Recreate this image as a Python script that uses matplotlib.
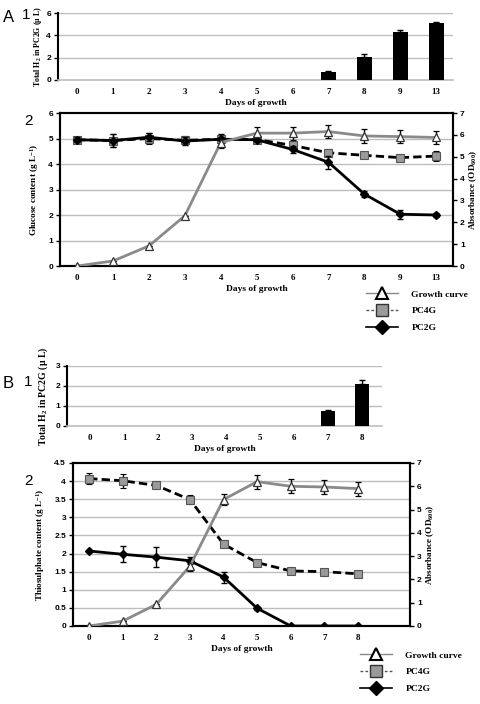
import matplotlib
matplotlib.use("Agg")
import matplotlib.pyplot as plt
import numpy as np

plt.rcParams['mathtext.fontset'] = 'custom'
plt.rcParams['mathtext.rm'] = 'Liberation Serif:bold'
plt.rcParams['mathtext.it'] = 'Liberation Serif:bold'
plt.rcParams['mathtext.bf'] = 'Liberation Serif:bold'

# ---------------- Data ----------------
days_A = ['0', '1', '2', '3', '4', '5', '6', '7', '8', '9', '13']
h2_A = [0, 0, 0, 0, 0, 0, 0, 0.72, 2.1, 4.3, 5.1]
h2_A_err = [0, 0, 0, 0, 0, 0, 0, 0.05, 0.2, 0.2, 0.05]

glu_pc2g = [4.95, 4.92, 5.05, 4.9, 4.97, 4.95, 4.57, 4.07, 2.82, 2.03, 2.0]
glu_pc2g_err = [0.1, 0.25, 0.15, 0.15, 0.2, 0.1, 0.15, 0.25, 0.12, 0.17, 0.08]
glu_pc4g = [4.95, 4.92, 5.0, 4.93, 4.97, 4.96, 4.73, 4.44, 4.34, 4.25, 4.31]
glu_pc4g_err = [0.1, 0.25, 0.2, 0.15, 0.15, 0.1, 0.12, 0.15, 0.1, 0.1, 0.2]
od_A = [0.0, 0.23, 0.92, 2.3, 5.65, 6.08, 6.08, 6.15, 5.95, 5.92, 5.88]
od_A_err = [0, 0, 0, 0, 0.25, 0.3, 0.3, 0.3, 0.3, 0.3, 0.3]

days_B = ['0', '1', '2', '3', '4', '5', '6', '7', '8']
h2_B = [0, 0, 0, 0, 0, 0, 0, 0.75, 2.1]
h2_B_err = [0, 0, 0, 0, 0, 0, 0, 0.05, 0.2]

thio_pc4g = [4.07, 4.01, 3.88, 3.49, 2.26, 1.75, 1.52, 1.5, 1.44]
thio_pc4g_err = [0.15, 0.2, 0.07, 0.12, 0.05, 0.05, 0.05, 0.05, 0.05]
thio_pc2g = [2.07, 1.98, 1.9, 1.8, 1.35, 0.49, 0.0, 0.0, 0.0]
thio_pc2g_err = [0.04, 0.22, 0.27, 0.1, 0.15, 0.04, 0, 0, 0]
od_B = [0.0, 0.21, 0.93, 2.57, 5.43, 6.2, 6.0, 5.97, 5.9]
od_B_err = [0, 0, 0, 0.2, 0.25, 0.3, 0.3, 0.3, 0.3]

legend_labels = ['Growth curve', 'PC4G', 'PC2G']

# ---------------- Styles ----------------
W, H = 480, 704
SERIF = 'Liberation Serif'
SANS = 'Liberation Sans'
GRID = '#bdbdbd'
GROWTH_LINE = '#8a8a8a'
SQ_FILL = '#9a9a9a'
TICK_FS = 6.5
LAB_FS = 6.8

fig = plt.figure(figsize=(W / 100, H / 100), dpi=100)


def rect(l, r, t, b):
    return [l / W, 1 - b / H, (r - l) / W, (b - t) / H]


def style_xticks(ax, labels):
    ax.set_xticks(range(len(labels)))
    ax.set_xticklabels(labels, fontfamily=SERIF, fontweight='bold', fontsize=TICK_FS)
    ax.tick_params(axis='x', length=0, pad=6)


def style_yticks(ax):
    for lab in ax.get_yticklabels():
        lab.set_fontfamily(SANS)
        lab.set_fontweight('bold')
        lab.set_fontsize(TICK_FS - 0.5)
    ax.tick_params(axis='y', length=3, width=1, pad=2, direction='out')


def bar_panel(ax, labels, vals, errs, ymax, yticks, xlim, lab_fs, lab_pad):
    x = np.arange(len(labels))
    ax.bar(x, vals, width=0.42, color='black', zorder=3)
    ev = np.array(vals)
    ee = np.array(errs)
    m = ee > 0
    ax.errorbar(x[m], ev[m], yerr=[np.zeros(m.sum()), ee[m]], fmt='none',
                ecolor='black', elinewidth=1, capsize=2.5, capthick=1, zorder=4)
    ax.set_ylim(0, ymax)
    ax.set_yticks(yticks)
    ax.set_xlim(*xlim)
    for yv in yticks[1:]:
        ax.axhline(yv, color=GRID, lw=1, zorder=1)
    for s in ['top', 'right']:
        ax.spines[s].set_visible(False)
    ax.spines['bottom'].set_color(GRID)
    ax.spines['bottom'].set_linewidth(1.2)
    ax.spines['left'].set_linewidth(1.5)
    style_xticks(ax, labels)
    style_yticks(ax)
    ax.set_xlabel('Days of growth', fontfamily=SERIF, fontweight='bold',
                  fontsize=LAB_FS, labelpad=2)
    ax.set_ylabel(r'Total H$_2$ in PC2G ($\mathregular{\mu}$ L)', fontfamily=SERIF,
                  fontweight='bold', fontsize=lab_fs, labelpad=lab_pad)


def line_panel(ax, labels, pc2g, pc2g_e, pc4g, pc4g_e, od, od_e, ylim, yticks,
               grid_vals, xlim, ylabel):
    x = np.arange(len(labels))
    ax.set_xlim(*xlim)
    for gv in grid_vals:
        ax.axhline(gv, color=GRID, lw=1, zorder=0)
    ax.errorbar(x, pc4g, yerr=pc4g_e, color='black', ls=(0, (3, 1.5)), lw=2,
                marker='s', ms=5.5, mfc=SQ_FILL, mec='#555555', mew=0.8,
                ecolor='black', elinewidth=1, capsize=2.5, capthick=1, zorder=3)
    ax.errorbar(x, pc2g, yerr=pc2g_e, color='black', ls='-', lw=2,
                marker='D', ms=4, mfc='black', mec='black',
                ecolor='black', elinewidth=1, capsize=2.5, capthick=1, zorder=4)
    ax.set_ylim(*ylim)
    ax.set_yticks(yticks)
    ax.set_yticklabels([('%g' % v) for v in yticks])
    style_xticks(ax, labels)
    style_yticks(ax)
    for s in ax.spines.values():
        s.set_linewidth(1.5)
    ax.set_xlabel('Days of growth', fontfamily=SERIF, fontweight='bold',
                  fontsize=LAB_FS, labelpad=2)
    ax.set_ylabel(ylabel, fontfamily=SERIF, fontweight='bold', fontsize=LAB_FS - 0.2,
                  labelpad=5)

    ax2 = ax.twinx()
    ax2.set_xlim(*xlim)
    ax2.errorbar(x, od, yerr=od_e, color=GROWTH_LINE, ls='-', lw=2,
                 marker='^', ms=6, mfc='white', mec='#333333', mew=0.9,
                 ecolor='black', elinewidth=1, capsize=2.5, capthick=1, zorder=3)
    ax2.set_ylim(0, 7)
    ax2.set_yticks(range(8))
    style_yticks(ax2)
    for s in ax2.spines.values():
        s.set_linewidth(1.5)
    ax2.set_ylabel(r'Absorbance (OD$_{600}$)', fontfamily=SERIF, fontweight='bold',
                   fontsize=LAB_FS - 0.2, labelpad=2)
    return ax2


def make_legend(x_left, y_top):
    from matplotlib.lines import Line2D
    h = [
        Line2D([], [], color=GROWTH_LINE, lw=1, marker='^', ms=9, mfc='white',
               mec='black', mew=1.5),
        Line2D([], [], color='#555555', lw=1, ls=(0, (2, 1.5)), marker='s', ms=8.5,
               mfc=SQ_FILL, mec='#333333', mew=1),
        Line2D([], [], color='black', lw=1.2, marker='D', ms=7, mfc='black',
               mec='black'),
    ]
    fig.legend(h, legend_labels, loc='upper left',
               bbox_to_anchor=(x_left / W, 1 - y_top / H), frameon=False,
               handlelength=3.4, handletextpad=1.4, labelspacing=0.85,
               borderpad=0, borderaxespad=0,
               prop={'family': SERIF, 'weight': 'bold', 'size': LAB_FS})


# ---------------- Panel A1 ----------------
axA1 = fig.add_axes(rect(58, 453, 13, 80))
bar_panel(axA1, days_A, h2_A, h2_A_err, 6, [0, 2, 4, 6], (-0.53, 10.47), 5.7, 2)

# ---------------- Panel A2 ----------------
axA2 = fig.add_axes(rect(60, 453, 113, 266))
line_panel(axA2, days_A, glu_pc2g, glu_pc2g_err, glu_pc4g, glu_pc4g_err,
           od_A, od_A_err, (0, 6), list(range(7)), [1, 2, 3, 4, 5],
           (-0.48, 10.47), r'Glucose content (g L$^{-1}$)')
make_legend(366, 290)

# ---------------- Panel B1 ----------------
axB1 = fig.add_axes(rect(67, 382, 366, 426))
bar_panel(axB1, days_B, h2_B, h2_B_err, 3, [0, 1, 2, 3], (-0.68, 8.6), 7.0, 4)

# ---------------- Panel B2 ----------------
axB2 = fig.add_axes(rect(73, 410, 463, 626))
line_panel(axB2, days_B, thio_pc2g, thio_pc2g_err, thio_pc4g, thio_pc4g_err,
           od_B, od_B_err, (0, 4.5), [0, 0.5, 1, 1.5, 2, 2.5, 3, 3.5, 4, 4.5],
           [0.5, 1, 1.5, 2, 2.5, 3, 3.5, 4],
           (-0.48, 9.55), r'Thiosulphate content (g L$^{-1}$)')
make_legend(360, 651)

# ---------------- Panel letters ----------------
for txt, x, y, fs in [('A', 3, 18, 12), ('1', 22, 15, 11), ('2', 24, 121, 11),
                      ('B', 3, 384, 12), ('1', 24, 382, 11), ('2', 24, 481, 11)]:
    fig.text(x / W, 1 - y / H, txt, fontfamily=SANS, fontsize=fs, va='center',
             ha='left')

fig.savefig('out.png', dpi=100)
